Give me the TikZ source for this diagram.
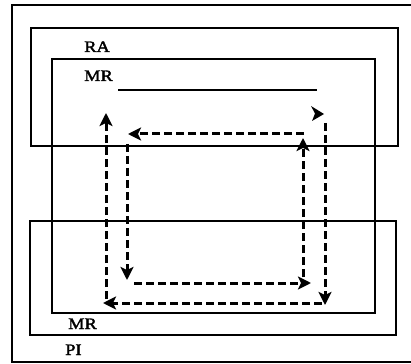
\documentclass[tikz,border=0pt]{standalone}
\usepackage{fontspec}
\newfontfamily\labfont[FakeBold=2]{Liberation Serif}
\newcommand{\widelab}[1]{\scalebox{1.15}[1]{#1}}
\usetikzlibrary{arrows.meta}
\begin{document}
\begin{tikzpicture}[x=1pt,y=-1pt,line cap=butt]
        % Styles
        \tikzstyle{frame line}=[line width=1.5pt]
        \tikzstyle{box line}=[line width=2.4pt]
        \tikzstyle{flow}=[line width=3pt,dash pattern=on 8pt off 4pt,-{Stealth[length=13pt,width=13pt,inset=3pt]}]
        \tikzstyle{label text}=[font=\labfont\fontsize{16}{16}\selectfont,anchor=base west,inner sep=0pt]
        \useasboundingbox (0,0) rectangle (411,363);
        %frame
        \draw[style=frame line] (412,5) -- (12,5) -- (12,362) -- (412,362);
        %boxes
        \begin{scope}[style=box line]
            \draw (31,28) rectangle (398,146);
            \draw (52,59) rectangle (375,313);
            \draw (30,221) rectangle (396,335);
        \end{scope}
        %labels
        \node[label text] (ra) at (84,52) {\widelab{RA}};
        \node[label text] (mrtop) at (84,81) {\widelab{MR}};
        \node[label text] (mrbot) at (68,329) {\widelab{MR}};
        \node[label text] (pi) at (65,355) {\widelab{PI}};
        \draw[line width=1.8pt] (118,90) -- (317,90);
        %outer loop
        \coordinate (o1) at (106,299);
        \coordinate (o2) at (106,113);
        \coordinate (o3) at (325,123);
        \coordinate (o4) at (325,305);
        \coordinate (o5) at (322,303);
        \coordinate (o6) at (103,303);
        %inner loop
        \coordinate (i1) at (304,134);
        \coordinate (i2) at (128,134);
        \coordinate (i3) at (127,144);
        \coordinate (i4) at (127,280);
        \coordinate (i5) at (134,283);
        \coordinate (i6) at (311,283);
        \coordinate (i7) at (303,277);
        \coordinate (i8) at (303,138);
        \foreach \a/\b in {o1/o2,o3/o4,o5/o6,i1/i2,i3/i4,i5/i6,i7/i8}
            \draw[flow] (\a) -- (\b);
        %arrow head top right
        \fill (311,106) -- (324,114) -- (312,121) -- (315,113.5) -- cycle;
    \end{tikzpicture}
\end{document}
